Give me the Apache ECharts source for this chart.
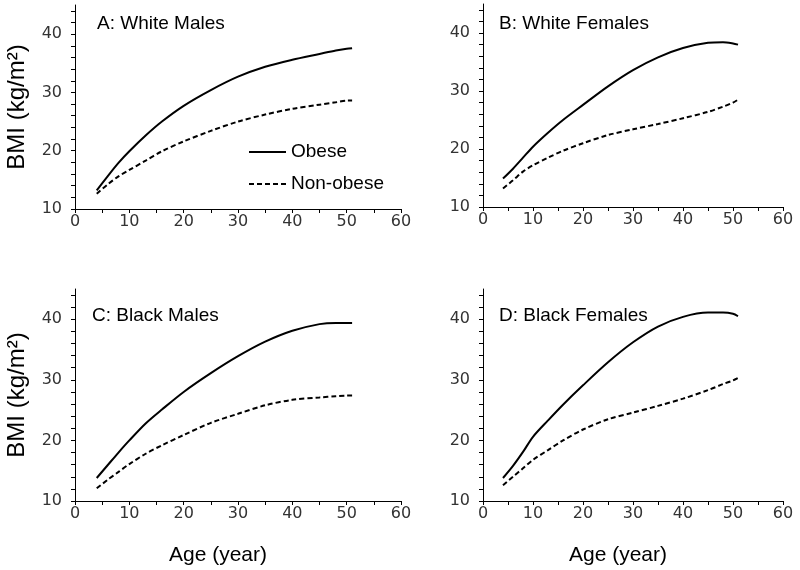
<!DOCTYPE html>
<html><head><meta charset="utf-8">
<script src="https://cdn.jsdelivr.net/npm/echarts@6/dist/echarts.min.js"></script>
<style>html,body{margin:0;padding:0;background:#fff}#c{width:800px;height:570px}</style>
</head><body><div id="c"></div><script>
// Data
const ages = [4, 6, 8, 10, 13, 16, 20, 25, 30, 35, 40, 45, 48, 50, 51];
const wmObese = [13.2, 15.6, 17.9, 19.9, 22.6, 25.0, 27.7, 30.4, 32.7, 34.4, 35.6, 36.6, 37.2, 37.5, 37.6];
const wmNon   = [12.6, 14.2, 15.6, 16.7, 18.3, 19.9, 21.6, 23.4, 25.0, 26.2, 27.2, 27.9, 28.3, 28.6, 28.6];
const wfObese = [14.9, 16.6, 18.5, 20.4, 22.8, 25.0, 27.6, 30.8, 33.6, 35.8, 37.4, 38.3, 38.4, 38.2, 38.0];
const wfNon   = [13.2, 14.6, 16.1, 17.2, 18.5, 19.7, 21.0, 22.4, 23.4, 24.3, 25.3, 26.4, 27.3, 28.0, 28.5];
const bmObese = [13.8, 15.9, 18.0, 20.0, 22.8, 25.1, 28.0, 31.1, 33.9, 36.3, 38.1, 39.2, 39.4, 39.4, 39.4];
const bmNon   = [12.1, 13.5, 14.8, 16.1, 17.8, 19.2, 20.9, 22.9, 24.4, 25.8, 26.7, 27.1, 27.3, 27.4, 27.4];
const bfObese = [13.8, 15.8, 18.1, 20.6, 23.3, 25.9, 29.1, 32.9, 36.2, 38.8, 40.4, 41.1, 41.1, 40.9, 40.5];
const bfNon   = [12.6, 14.0, 15.4, 16.8, 18.4, 20.0, 21.8, 23.5, 24.6, 25.7, 26.9, 28.3, 29.3, 29.9, 30.3];

const panelTitles = ['A: White Males', 'B: White Females', 'C: Black Males', 'D: Black Females'];
const seriesNames = ['Obese', 'Non-obese'];
const xTicks = [0, 5, 10, 15, 20, 25, 30, 35, 40, 45, 50, 55, 60];
const xLabels = [0, 10, 20, 30, 40, 50, 60];
const yTicks = [10, 12, 14, 16, 18, 20, 22, 24, 26, 28, 30, 32, 34, 36, 38, 40, 42, 44];
const yLabels = [10, 20, 30, 40];
const yName = 'BMI (kg/m²)';
const xName = 'Age (year)';

const panels = [[wmObese, wmNon], [wfObese, wfNon], [bmObese, bmNon], [bfObese, bfNon]];

const grids = [
  {left: 75, top: 5, width: 326, height: 204},
  {left: 483, top: 4, width: 300, height: 203},
  {left: 75, top: 289, width: 326, height: 212},
  {left: 483, top: 289, width: 300, height: 212}
];
const titlePos = [[97, 14], [499, 14], [92, 306], [499, 306]];

const lab = {fontFamily: 'DejaVu Sans', fontSize: 16, color: '#333'};
const arial = "Arial, 'Liberation Sans', sans-serif";

const xAxes = grids.map((g, i) => ({
  gridIndex: i, type: 'value', min: 0, max: 60, interval: 5,
  axisLine: {lineStyle: {color: '#000', width: 1}},
  axisTick: {length: 4, customValues: xTicks, lineStyle: {color: '#000'}},
  axisLabel: Object.assign({margin: 5, customValues: xLabels}, lab),
  splitLine: {show: false},
  name: i >= 2 ? xName : '',
  nameLocation: 'middle', nameGap: 44,
  nameTextStyle: {fontFamily: arial, fontSize: 21, color: '#000', padding: i === 2 ? [0, 40, 0, 0] : [0, 30, 0, 0]}
}));
const yAxes = grids.map((g, i) => ({
  gridIndex: i, type: 'value', min: 10, max: 45, interval: 2,
  axisLine: {show: true, lineStyle: {color: '#000', width: 1}},
  axisTick: {length: 4, customValues: yTicks, lineStyle: {color: '#000'}},
  axisLabel: Object.assign({margin: 13, customValues: yLabels}, lab),
  splitLine: {show: false},
  name: (i % 2 === 0) ? yName : '',
  nameLocation: 'middle', nameGap: 46,
  nameTextStyle: {fontFamily: arial, fontSize: 24, color: '#000'}
}));

const series = [];
panels.forEach((p, i) => {
  p.forEach((vals, k) => {
    series.push({
      type: 'line', name: seriesNames[k], xAxisIndex: i, yAxisIndex: i,
      data: ages.map((a, j) => [a, vals[j]]),
      smooth: 0.3, symbol: 'none', silent: true,
      color: '#000',
      lineStyle: {color: '#000', width: 2, type: k === 0 ? 'solid' : [5, 3]}
    });
  });
});

const chart = echarts.init(document.getElementById('c'), null, {renderer: 'canvas'});
chart.setOption({
  animation: false,
  backgroundColor: '#fff',
  grid: grids,
  xAxis: xAxes,
  yAxis: yAxes,
  title: panelTitles.map((t, i) => ({
    text: t, left: titlePos[i][0], top: titlePos[i][1], padding: 0,
    textStyle: {fontFamily: arial, fontSize: 19, fontWeight: 'normal', color: '#000'}
  })),
  legend: {
    left: 248, top: 142, padding: 0, orient: 'vertical', itemWidth: 37, itemHeight: 10, itemGap: 12,
    selectedMode: false, data: seriesNames,
    itemStyle: {color: 'transparent', borderWidth: 0, opacity: 0},
    textStyle: {fontFamily: arial, fontSize: 19, color: '#000', lineHeight: 20}
  },
  series: series
});
</script></body></html>
